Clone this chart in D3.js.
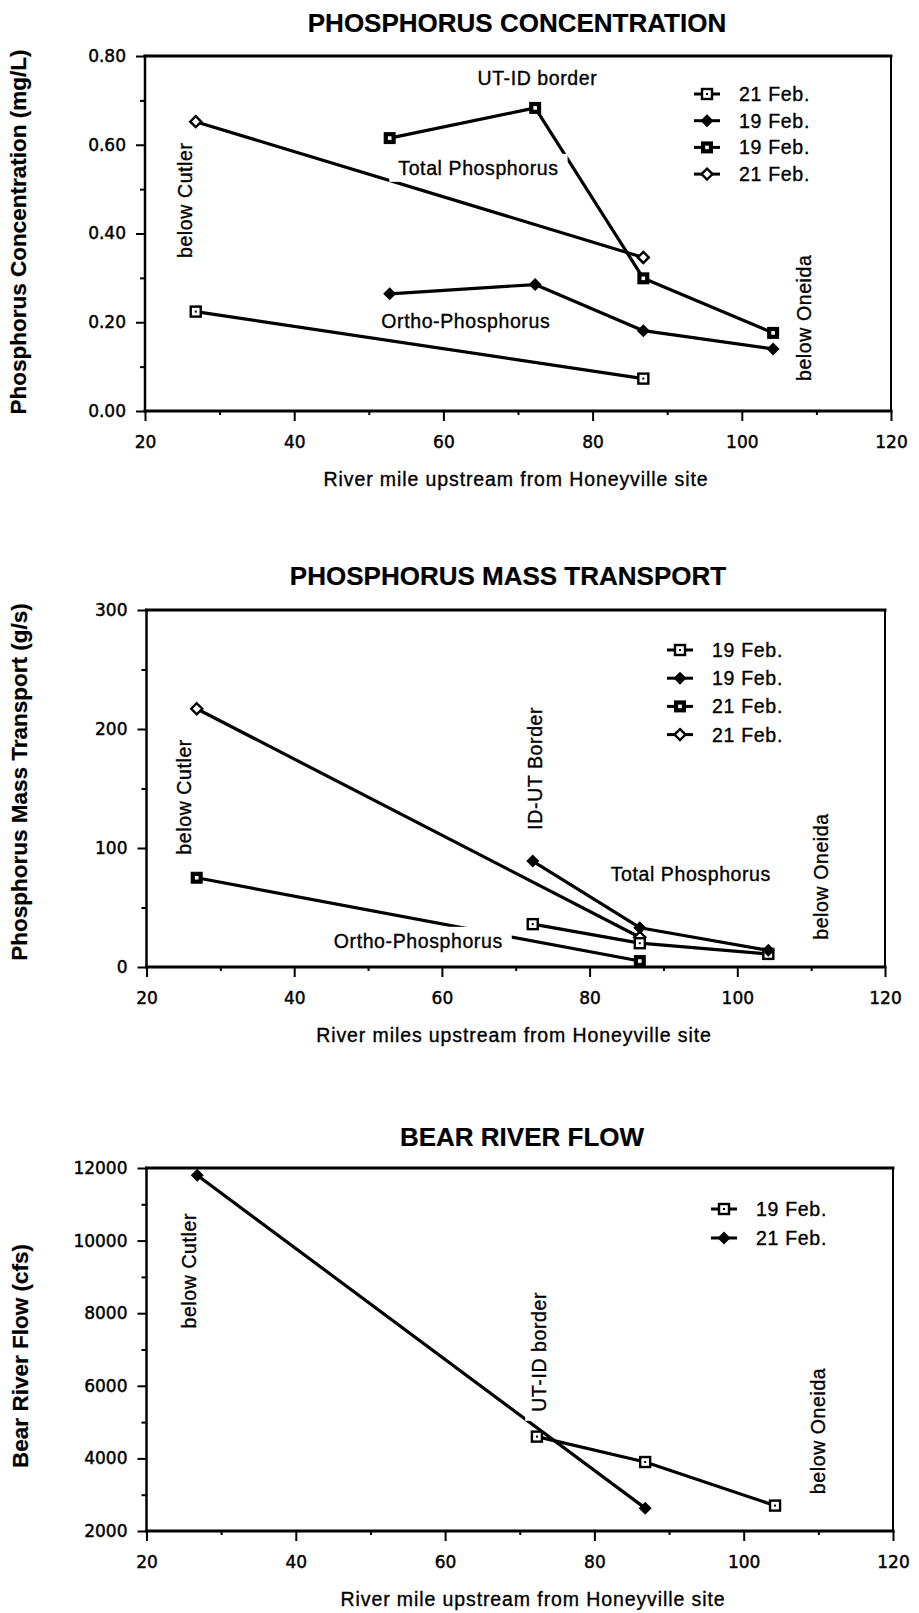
<!DOCTYPE html>
<html>
<head>
<meta charset="utf-8">
<script src="https://cdn.jsdelivr.net/npm/d3@7"></script>
<style>
  body { margin: 0; background: #fff; }
  svg { display: block; }
  text { fill: #000; stroke: #000; stroke-width: 0.35px; }
</style>
</head>
<body>
<svg id="chart" width="919" height="1613"></svg>
<script>
// ---------------- data ----------------
// river miles upstream from the Honeyville site
const milesAll   = [52.8, 72.3, 86.8, 104.2];   // 19 Feb. sites, concentration survey
const milesUpper = [72.3, 86.8, 104.2];         // 19 Feb. sites, flow/transport
const milesLower = [26.8, 86.8];                // 21 Feb. sites

const xTickValues = [20, 40, 60, 80, 100, 120];
const xMinorValues = [30, 50, 70, 90, 110];

// Phosphorus concentration (mg/L)
const concOrtho21 = [0.224, 0.073];
const concOrtho19 = [0.264, 0.285, 0.181, 0.140];
const concTotal19 = [0.615, 0.683, 0.299, 0.176];
const concTotal21 = [0.652, 0.346];
const concTicks = [0, 0.2, 0.4, 0.6, 0.8];
const concMinor = [0.1, 0.3, 0.5, 0.7];

// Phosphorus mass transport (g/s)
const massOrtho19 = [36, 20, 11];
const massTotal19 = [89, 33, 14];
const massOrtho21 = [75, 5];
const massTotal21 = [217, 25];
const massTicks = [0, 100, 200, 300];
const massMinor = [50, 150, 250];

// Bear River flow (cfs)
const flow19 = [4600, 3900, 2700];
const flow21 = [11800, 2630];
const flowTicks = [2000, 4000, 6000, 8000, 10000, 12000];
const flowMinor = [3000, 5000, 7000, 9000, 11000];

// ---------------- drawing helpers ----------------
const svg = d3.select("#chart");
const SANS = "'Liberation Sans', Arial, Helvetica, sans-serif";
const TICKFONT = "'DejaVu Sans', sans-serif";

function markerPath(g, type, cx, cy) {
  const m = g.append("g").attr("transform", `translate(${cx},${cy})`);
  if (type === "sqDot") {
    m.append("rect").attr("x", -5).attr("y", -5).attr("width", 10).attr("height", 10)
      .attr("fill", "#fff").attr("stroke", "#000").attr("stroke-width", 2.4);
    m.append("rect").attr("x", -1).attr("y", -1).attr("width", 2).attr("height", 2).attr("fill", "#000");
  } else if (type === "sqBold") {
    m.append("rect").attr("x", -6).attr("y", -6).attr("width", 12).attr("height", 12).attr("fill", "#000");
    m.append("rect").attr("x", -1.8).attr("y", -1.8).attr("width", 3.6).attr("height", 3.6).attr("fill", "#fff");
  } else if (type === "diaFill") {
    m.append("path").attr("d", "M0,-6.5L6.5,0L0,6.5L-6.5,0Z").attr("fill", "#000");
  } else if (type === "diaOpen") {
    m.append("path").attr("d", "M0,-5.5L5.5,0L0,5.5L-5.5,0Z")
      .attr("fill", "#fff").attr("stroke", "#000").attr("stroke-width", 2.4);
  }
}

function annotate(g, text, cx, cy, rotate) {
  const grp = g.append("g").attr("transform", `translate(${cx},${cy}) rotate(${rotate})`);
  const box = grp.append("rect").attr("fill", "#fff");
  const t = grp.append("text")
    .attr("text-anchor", "middle").attr("dy", "0.36em")
    .style("font-family", SANS).style("font-size", "19.5px").style("letter-spacing", "0.6px")
    .text(text);
  const bb = t.node().getBBox();
  box.attr("x", bb.x - 9).attr("y", bb.y - 3).attr("width", bb.width + 18).attr("height", bb.height + 6)
    .attr("stroke", "none");
}

function drawPanel(cfg) {
  const g = svg.append("g");
  const x = d3.scaleLinear().domain([20, 120]).range([cfg.left, cfg.right]);
  const y = d3.scaleLinear().domain(cfg.yDomain).range([cfg.bottom, cfg.top]);

  // title
  g.append("text").attr("x", cfg.titleX).attr("y", cfg.titleY).attr("text-anchor", "middle")
    .style("font-family", SANS).style("font-weight", "bold").style("font-size", "26px")
    .style("stroke-width", "0.2px")
    .text(cfg.title);

  // y axis title
  g.append("text")
    .attr("transform", `translate(${cfg.yTitleX},${cfg.yTitleY}) rotate(-90)`)
    .attr("text-anchor", "middle")
    .style("font-family", SANS).style("font-weight", "bold").style("font-size", "22.5px")
    .style("stroke-width", "0.2px")
    .text(cfg.yTitle);

  // x axis title
  g.append("text").attr("x", cfg.xTitleX).attr("y", cfg.bottom + 75).attr("text-anchor", "middle")
    .style("font-family", SANS).style("font-size", "19.5px").style("letter-spacing", "0.9px")
    .text(cfg.xTitle);

  // axes
  const styleAxis = sel => {
    sel.select(".domain").remove();
    sel.selectAll("line").attr("stroke", "#000").attr("stroke-width", 2);
    sel.selectAll("text").style("font-family", TICKFONT).style("font-size", "17px")
      .style("stroke", "#000").style("stroke-width", "0.45px").attr("fill", "#000");
  };
  g.append("g").attr("transform", `translate(${cfg.left},0)`)
    .call(d3.axisLeft(y).tickValues(cfg.yMinor).tickSize(5).tickFormat(""))
    .call(styleAxis);
  g.append("g").attr("transform", `translate(${cfg.left},0)`)
    .call(d3.axisLeft(y).tickValues(cfg.yTicks).tickSize(9).tickPadding(10).tickFormat(cfg.yFormat))
    .call(styleAxis);
  g.append("g").attr("transform", `translate(0,${cfg.bottom})`)
    .call(d3.axisBottom(x).tickValues(xMinorValues).tickSize(4).tickFormat(""))
    .call(styleAxis);
  g.append("g").attr("transform", `translate(0,${cfg.bottom})`)
    .call(d3.axisBottom(x).tickValues(xTickValues).tickSize(10).tickPadding(15).tickFormat(d3.format("d")))
    .call(styleAxis);

  // frame
  const frame = [
    [cfg.left, cfg.top, cfg.right, cfg.top, 3],
    [cfg.right, cfg.top, cfg.right, cfg.bottom, 2],
    [cfg.left, cfg.bottom, cfg.right, cfg.bottom, 3],
    [cfg.left, cfg.top, cfg.left, cfg.bottom, 2.5]
  ];
  g.selectAll(null).data(frame).enter().append("line")
    .attr("x1", d => d[0]).attr("y1", d => d[1]).attr("x2", d => d[2]).attr("y2", d => d[3])
    .attr("stroke", "#000").attr("stroke-width", d => d[4]).attr("stroke-linecap", "square");

  // series lines
  const line = d3.line().x(d => x(d[0])).y(d => y(d[1]));
  cfg.series.forEach(s => {
    const pts = d3.zip(s.miles, s.values);
    g.append("path").datum(pts).attr("d", line)
      .attr("fill", "none").attr("stroke", "#000").attr("stroke-width", 3.2)
      .attr("stroke-linejoin", "round");
  });

  // site / constituent labels (knocked out of the lines they cross)
  cfg.notes.forEach(n => annotate(g, n.text, x(n.mile), y(n.value), n.rotate));

  // markers
  cfg.series.forEach(s => {
    d3.zip(s.miles, s.values).forEach(p => markerPath(g, s.marker, x(p[0]), y(p[1])));
  });

  // legend
  cfg.legendOrder.forEach((s, i) => {
    const ly = cfg.legendY + i * cfg.legendStep;
    g.append("line").attr("x1", cfg.legendX - 13).attr("x2", cfg.legendX + 13)
      .attr("y1", ly).attr("y2", ly).attr("stroke", "#000").attr("stroke-width", 3);
    markerPath(g, s.marker, cfg.legendX, ly);
    g.append("text").attr("x", cfg.legendX + 32).attr("y", ly + 7)
      .style("font-family", SANS).style("font-size", "19.5px").style("letter-spacing", "0.7px")
      .text(s.label);
  });
}

// ---------------- panel 1: concentration ----------------
const c1 = { marker: "sqDot",   label: "21 Feb.", miles: milesLower, values: concOrtho21 };
const c2 = { marker: "diaFill", label: "19 Feb.", miles: milesAll,   values: concOrtho19 };
const c3 = { marker: "sqBold",  label: "19 Feb.", miles: milesAll,   values: concTotal19 };
const c4 = { marker: "diaOpen", label: "21 Feb.", miles: milesLower, values: concTotal21 };

drawPanel({
  title: "PHOSPHORUS CONCENTRATION", titleX: 517, titleY: 32,
  yTitle: "Phosphorus Concentration (mg/L)", yTitleX: 26, yTitleY: 232,
  xTitle: "River mile upstream from Honeyville site", xTitleX: 516,
  left: 145, right: 891, top: 56, bottom: 411,
  yDomain: [0, 0.8], yTicks: concTicks, yMinor: concMinor, yFormat: d3.format(".2f"),
  series: [c1, c2, c3, c4],
  legendOrder: [c1, c2, c3, c4], legendX: 707, legendY: 94, legendStep: 26.7,
  notes: [
    { text: "UT-ID border", mile: 72.6, value: 0.750, rotate: 0 },
    { text: "Total Phosphorus", mile: 64.7, value: 0.548, rotate: 0 },
    { text: "Ortho-Phosphorus", mile: 63.0, value: 0.203, rotate: 0 },
    { text: "below Cutler", mile: 25.4, value: 0.475, rotate: -90 },
    { text: "below Oneida", mile: 108.4, value: 0.21, rotate: -90 }
  ]
});

// ---------------- panel 2: mass transport ----------------
const m1 = { marker: "sqDot",   label: "19 Feb.", miles: milesUpper, values: massOrtho19 };
const m2 = { marker: "diaFill", label: "19 Feb.", miles: milesUpper, values: massTotal19 };
const m3 = { marker: "sqBold",  label: "21 Feb.", miles: milesLower, values: massOrtho21 };
const m4 = { marker: "diaOpen", label: "21 Feb.", miles: milesLower, values: massTotal21 };

drawPanel({
  title: "PHOSPHORUS MASS TRANSPORT", titleX: 508, titleY: 585,
  yTitle: "Phosphorus Mass Transport (g/s)", yTitleX: 27, yTitleY: 782,
  xTitle: "River miles upstream from Honeyville site", xTitleX: 514,
  left: 146.5, right: 885, top: 610, bottom: 967,
  yDomain: [0, 300], yTicks: massTicks, yMinor: massMinor, yFormat: d3.format("d"),
  series: [m4, m3, m1, m2],
  legendOrder: [m1, m2, m3, m4], legendX: 680, legendY: 650, legendStep: 28.2,
  notes: [
    { text: "below Cutler", mile: 25.1, value: 143, rotate: -90 },
    { text: "ID-UT Border", mile: 72.6, value: 167, rotate: -90 },
    { text: "Total Phosphorus", mile: 93.7, value: 78, rotate: 0 },
    { text: "below Oneida", mile: 111.3, value: 76, rotate: -90 },
    { text: "Ortho-Phosphorus", mile: 56.8, value: 22, rotate: 0 }
  ]
});

// ---------------- panel 3: river flow ----------------
const f1 = { marker: "sqDot",   label: "19 Feb.", miles: milesUpper, values: flow19 };
const f2 = { marker: "diaFill", label: "21 Feb.", miles: milesLower, values: flow21 };

drawPanel({
  title: "BEAR RIVER FLOW", titleX: 522, titleY: 1146,
  yTitle: "Bear River Flow (cfs)", yTitleX: 28, yTitleY: 1356,
  xTitle: "River mile upstream from Honeyville site", xTitleX: 533,
  left: 146.5, right: 893, top: 1168, bottom: 1531,
  yDomain: [2000, 12000], yTicks: flowTicks, yMinor: flowMinor, yFormat: d3.format("d"),
  series: [f2, f1],
  legendOrder: [f1, f2], legendX: 724, legendY: 1209, legendStep: 29,
  notes: [
    { text: "below Cutler", mile: 25.7, value: 9170, rotate: -90 },
    { text: "UT-ID border", mile: 72.6, value: 6935, rotate: -90 },
    { text: "below Oneida", mile: 110, value: 4757, rotate: -90 }
  ]
});
</script>
</body>
</html>
